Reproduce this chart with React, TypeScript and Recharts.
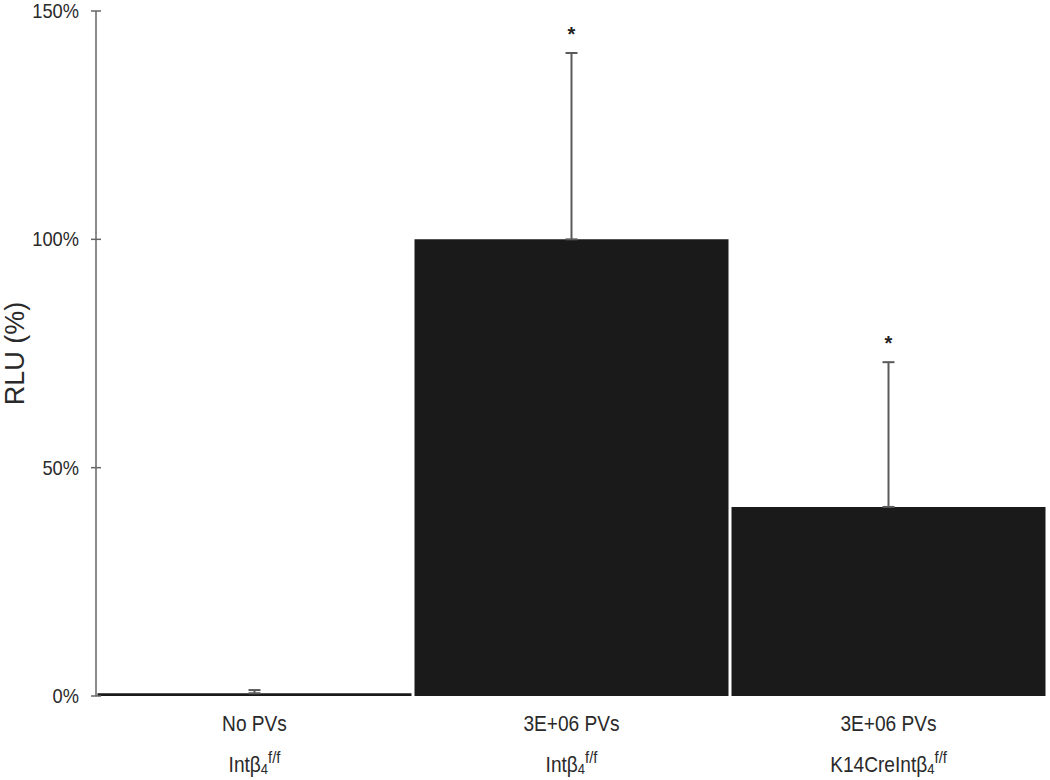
import React from 'react'
import { ComposedChart, Bar, Line, XAxis, YAxis, ErrorBar, LabelList, Label } from 'recharts'

const doses = ['No PVs', '3E+06 PVs', '3E+06 PVs']
const genotypes = ['Intβ', 'Intβ', 'K14CreIntβ']
const rlu = [0.6, 100, 41.4]
const sdUp = [0.7, 40.8, 31.7]
const stars = ['', '*', '*']
const yTicks = [0, 50, 100, 150]

const data = rlu.map((v, i) => ({
  id: `g${i}`,
  rlu: v,
  err: [0, sdUp[i]],
  top: v + sdUp[i],
  star: stars[i],
}))

const FONT = '"Liberation Sans", Arial, sans-serif'
const INK = '#2a2a2a'

// reference text is a little narrower than Arial, so squeeze it horizontally
const YTick = ({ x, y, payload }: any) => (
  <g>
    <line x1={x - 5} x2={x + 5} y1={y} y2={y} stroke="#666" strokeWidth={1.5} />
    <text
      transform={`translate(${x - 17} ${y + 7}) scale(0.87 1)`}
      textAnchor="end"
      fill={INK}
      fontSize={21}
      fontFamily={FONT}
    >
      {payload.value}%
    </text>
  </g>
)

const XTick = ({ x, y, payload }: any) => {
  const i = payload.index
  return (
    <g fill={INK} fontFamily={FONT} textAnchor="middle">
      <text transform={`translate(${x} ${y + 35}) scale(0.87 1)`} fontSize={22}>{doses[i]}</text>
      <text transform={`translate(${x} ${y + 76}) scale(0.87 1)`} fontSize={22}>
        {genotypes[i]}
        <tspan fontSize={15} dy={2}>4</tspan>
        <tspan fontSize={17} dy={-11}>f/f</tspan>
      </text>
    </g>
  )
}

export default function App() {
  return (
    <div style={{ position: 'absolute', left: 0, top: 0, background: '#fff' }}>
      <ComposedChart
        width={1050}
        height={780}
        data={data}
        margin={{ top: 11, right: 3, left: 0, bottom: 0 }}
        barCategoryGap={1.5}
      >
        <XAxis
          dataKey="id"
          axisLine={false}
          tickLine={false}
          tickSize={0}
          tickMargin={0}
          height={84}
          tick={<XTick />}
          interval={0}
        />
        <YAxis
          domain={[0, 150]}
          ticks={yTicks}
          width={96}
          tickSize={0}
          tickMargin={0}
          tickLine={false}
          axisLine={{ stroke: '#666', strokeWidth: 1.5 }}
          tick={<YTick />}
          interval={0}
        >
          <Label
            value="RLU (%)"
            angle={-90}
            position="insideLeft"
            offset={14}
            fill={INK}
            fontSize={27}
            fontFamily={FONT}
            style={{ textAnchor: 'middle' }}
          />
        </YAxis>
        <Bar dataKey="rlu" fill="#1a1a1a" isAnimationActive={false}>
          <ErrorBar dataKey="err" width={6} stroke="#5a5a5a" strokeWidth={2} direction="y" />
        </Bar>
        <Line dataKey="top" stroke="none" dot={false} activeDot={false} isAnimationActive={false}>
          <LabelList
            dataKey="star"
            position="top"
            offset={12}
            fill="#222"
            fontSize={20}
            fontWeight="bold"
            fontFamily={FONT}
          />
        </Line>
      </ComposedChart>
    </div>
  )
}
